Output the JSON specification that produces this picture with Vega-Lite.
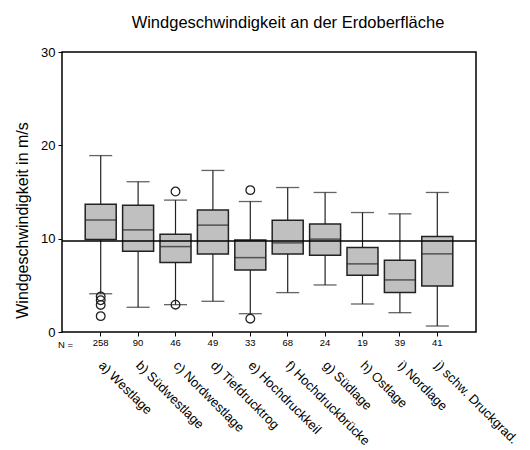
{
  "$schema": "https://vega.github.io/schema/vega-lite/v6.json",
  "width": 414,
  "height": 280,
  "autosize": {"type": "none"},
  "padding": {"left": 62, "top": 52, "right": 54, "bottom": 118},
  "background": "white",
  "title": {"text": "Windgeschwindigkeit an der Erdoberfläche", "fontSize": 16.5, "fontWeight": "normal", "color": "black", "font": "Liberation Sans", "anchor": "middle", "dx": 19, "offset": 15},
  "config": {
    "font": "Liberation Sans",
    "view": {"stroke": "black", "strokeWidth": 1.5},
    "axis": {"labelColor": "black", "titleColor": "black", "tickColor": "black", "grid": false, "labelFont": "Liberation Sans", "titleFont": "Liberation Sans"}
  },
  "datasets": {
    "boxes": [
      {"cat": "a) Westlage", "n": "258", "lower": 4.1, "q1": 9.9, "median": 12.0, "q3": 13.7, "upper": 18.9},
      {"cat": "b) Südwestlage", "n": "90", "lower": 2.65, "q1": 8.66, "median": 10.94, "q3": 13.59, "upper": 16.1},
      {"cat": "c) Nordwestlage", "n": "46", "lower": 2.93, "q1": 7.44, "median": 9.15, "q3": 10.48, "upper": 14.13},
      {"cat": "d) Tiefdrucktrog", "n": "49", "lower": 3.29, "q1": 8.37, "median": 11.45, "q3": 13.06, "upper": 17.31},
      {"cat": "e) Hochdruckkeil", "n": "33", "lower": 1.96, "q1": 6.65, "median": 7.97, "q3": 9.87, "upper": 13.98},
      {"cat": "f) Hochdruckbrücke", "n": "68", "lower": 4.22, "q1": 8.37, "median": 9.55, "q3": 11.98, "upper": 15.48},
      {"cat": "g) Südlage", "n": "24", "lower": 5.04, "q1": 8.23, "median": 9.95, "q3": 11.56, "upper": 14.95},
      {"cat": "h) Ostlage", "n": "19", "lower": 3.0, "q1": 6.08, "median": 7.3, "q3": 9.05, "upper": 12.8},
      {"cat": "i) Nordlage", "n": "39", "lower": 2.07, "q1": 4.22, "median": 5.58, "q3": 7.69, "upper": 12.66},
      {"cat": "j) schw. Druckgrad.", "n": "41", "lower": 0.64, "q1": 4.94, "median": 8.37, "q3": 10.23, "upper": 14.95}
    ],
    "outliers": [
      {"cat": "a) Westlage", "value": 3.8},
      {"cat": "a) Westlage", "value": 3.4},
      {"cat": "a) Westlage", "value": 2.9},
      {"cat": "a) Westlage", "value": 1.7},
      {"cat": "c) Nordwestlage", "value": 15.05},
      {"cat": "c) Nordwestlage", "value": 2.93},
      {"cat": "e) Hochdruckkeil", "value": 15.2},
      {"cat": "e) Hochdruckkeil", "value": 1.43}
    ],
    "ref": [{"mean": 9.75}]
  },
  "resolve": {"axis": {"x": "independent"}},
  "layer": [
    {
      "data": {"name": "boxes"},
      "mark": {"type": "rule", "color": "#222", "strokeWidth": 1.2},
      "encoding": {
        "x": {"field": "cat", "type": "nominal", "sort": null,
          "scale": {"paddingInner": 0.15, "paddingOuter": 0.61},
          "axis": {"orient": "bottom", "labelExpr": "{'a) Westlage':'258','b) Südwestlage':'90','c) Nordwestlage':'46','d) Tiefdrucktrog':'49','e) Hochdruckkeil':'33','f) Hochdruckbrücke':'68','g) Südlage':'24','h) Ostlage':'19','i) Nordlage':'39','j) schw. Druckgrad.':'41'}[datum.value]",
            "labelAngle": 0, "labelAlign": "center", "labelBaseline": "middle", "labelFontSize": 9.5, "labelPadding": 6,
            "ticks": true, "tickSize": 4, "domain": false,
            "title": "N =", "titleFontSize": 9.5, "titleFontWeight": "normal", "titleX": 3, "titleY": 12, "titleAlign": "center", "titleBaseline": "middle", "titleAngle": 0}},
        "y": {"field": "lower", "type": "quantitative",
          "scale": {"domain": [0, 30], "nice": false, "zero": false},
          "axis": {"values": [0, 10, 20, 30], "tickSize": 4, "labelFontSize": 13, "labelPadding": 3, "domain": false,
            "title": "Windgeschwindigkeit in m/s", "titleFontSize": 16, "titleFontWeight": "normal", "titleX": -40, "titleY": 168, "titleAlign": "center", "titleBaseline": "middle", "titleAngle": -90}},
        "y2": {"field": "upper"}
      }
    },
    {
      "data": {"name": "boxes"},
      "mark": {"type": "tick", "color": "#222", "thickness": 1.3, "size": 23, "orient": "horizontal"},
      "encoding": {
        "x": {"field": "cat", "type": "nominal", "sort": null,
          "axis": {"orient": "bottom", "labelAngle": 45, "labelAlign": "left", "labelBaseline": "middle", "labelFontSize": 13, "labelPadding": 31, "ticks": false, "domain": false, "title": null, "labelLimit": 0}},
        "y": {"field": "lower", "type": "quantitative"}
      }
    },
    {
      "data": {"name": "boxes"},
      "mark": {"type": "tick", "color": "#222", "thickness": 1.3, "size": 23, "orient": "horizontal"},
      "encoding": {
        "x": {"field": "cat", "type": "nominal", "sort": null, "axis": null},
        "y": {"field": "upper", "type": "quantitative"}
      }
    },
    {
      "data": {"name": "boxes"},
      "mark": {"type": "bar", "fill": "#c0c0c0", "stroke": "#222", "strokeWidth": 1.5, "size": 31},
      "encoding": {
        "x": {"field": "cat", "type": "nominal", "sort": null, "axis": null},
        "y": {"field": "q1", "type": "quantitative"},
        "y2": {"field": "q3"}
      }
    },
    {
      "data": {"name": "boxes"},
      "mark": {"type": "tick", "color": "#222", "thickness": 1.5, "size": 31, "orient": "horizontal"},
      "encoding": {
        "x": {"field": "cat", "type": "nominal", "sort": null, "axis": null},
        "y": {"field": "median", "type": "quantitative"}
      }
    },
    {
      "data": {"name": "outliers"},
      "mark": {"type": "point", "shape": "circle", "filled": false, "stroke": "#222", "strokeWidth": 1.3, "size": 75, "opacity": 1},
      "encoding": {
        "x": {"field": "cat", "type": "nominal", "sort": null, "axis": null},
        "y": {"field": "value", "type": "quantitative"}
      }
    },
    {
      "data": {"name": "ref"},
      "mark": {"type": "rule", "color": "black", "strokeWidth": 1.3},
      "encoding": {
        "y": {"field": "mean", "type": "quantitative"}
      }
    }
  ]
}
